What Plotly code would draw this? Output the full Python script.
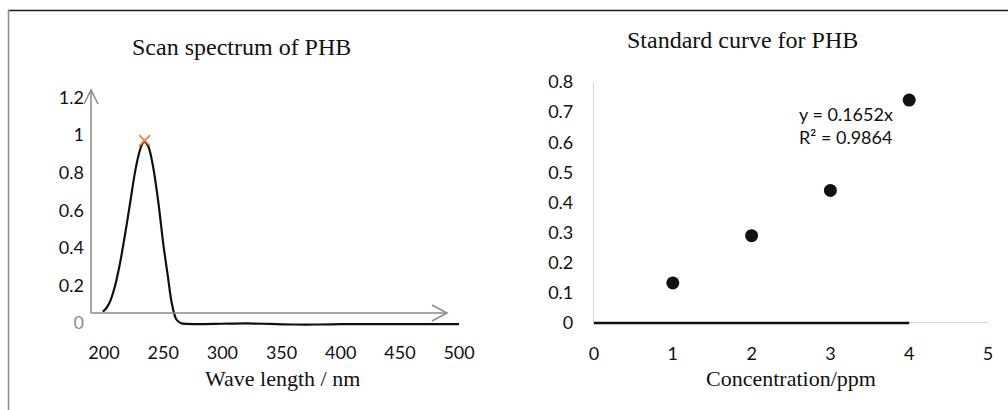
import plotly.graph_objects as go

# ---- Data: scan spectrum ----
wavelength = [199, 202, 205, 209, 213.5, 218, 222, 226, 229.5, 232, 234, 236, 238, 241.5,
              246, 250, 254, 257, 261, 265, 270, 276, 285, 300, 320, 340, 360, 380, 400,
              450, 500]
absorbance = [0.06, 0.08, 0.113, 0.19, 0.318, 0.48, 0.637, 0.796, 0.90, 0.95, 0.965, 0.955,
              0.93, 0.83, 0.637, 0.424, 0.246, 0.113, 0.02, -0.001, -0.005, -0.006, -0.006,
              -0.004, -0.002, -0.005, -0.008, -0.008, -0.006, -0.006, -0.006]
peak_wl = [234.3]
peak_abs = [0.97]

# ---- Data: standard curve ----
conc = [1, 2, 3, 4]
conc_abs = [0.133, 0.29, 0.44, 0.74]
trend_x = [0, 4]
trend_y = [0, 0]

left_yticks = [0, 0.2, 0.4, 0.6, 0.8, 1, 1.2]
left_yticktext = ["<span style='color:#8c8c8c'>0</span>", "0.2", "0.4", "0.6", "0.8", "1", "1.2"]
left_xticks = [200, 250, 300, 350, 400, 450, 500]
right_yticks = [0, 0.1, 0.2, 0.3, 0.4, 0.5, 0.6, 0.7, 0.8]
right_yticktext = ["0", "0.1", "0.2", "0.3", "0.4", "0.5", "0.6", "0.7", "0.8"]
right_xticks = [0, 1, 2, 3, 4, 5]

W, H = 1008, 410
TICKFONT = dict(family="Lato, 'Open Sans', sans-serif", size=18, color="#111111")
SERIF = "'Liberation Serif', 'Times New Roman', serif"


def px(x):
    return x / W


def py(y):
    return 1 - y / H


fig = go.Figure()

fig.add_trace(go.Scatter(x=wavelength, y=absorbance, mode="lines",
                         line=dict(color="#111111", width=2.2, shape="spline", smoothing=0.8),
                         xaxis="x", yaxis="y", showlegend=False, hoverinfo="skip"))
fig.add_trace(go.Scatter(x=peak_wl, y=peak_abs, mode="markers",
                         marker=dict(symbol="x-thin", size=11,
                                     line=dict(color="#ED7D31", width=1.6)),
                         xaxis="x", yaxis="y", showlegend=False))

fig.add_trace(go.Scatter(x=trend_x, y=trend_y, mode="lines",
                         line=dict(color="#111111", width=2.6),
                         xaxis="x2", yaxis="y2", showlegend=False, hoverinfo="skip"))
fig.add_trace(go.Scatter(x=conc, y=conc_abs, mode="markers",
                         marker=dict(symbol="circle", size=13, color="#111111"),
                         xaxis="x2", yaxis="y2", showlegend=False))

fig.update_layout(
    xaxis=dict(domain=[px(91), px(465)], range=[189, 505], tickvals=left_xticks,
               showgrid=False, zeroline=False, showline=False, ticks="", automargin=False,
               tickfont=TICKFONT, ticklabelstandoff=6, anchor="y"),
    yaxis=dict(domain=[py(334.3), py(78.6)], range=[-0.06, 1.3], tickvals=left_yticks,
               ticktext=left_yticktext, showgrid=False, zeroline=False, showline=False,
               ticks="", automargin=False, tickfont=TICKFONT, ticklabelstandoff=6, anchor="x"),
    xaxis2=dict(domain=[px(594), px(988)], range=[0, 5], tickvals=right_xticks,
                showgrid=False, zeroline=False, showline=False, ticks="", automargin=False,
                tickfont=TICKFONT, ticklabelstandoff=16, anchor="y2"),
    yaxis2=dict(domain=[py(325.4), py(82)], range=[-0.008, 0.8], tickvals=right_yticks,
                ticktext=right_yticktext, showgrid=False, zeroline=True,
                zerolinecolor="#d4d4d4", zerolinewidth=1.2,
                showline=True, linecolor="#d4d4d4", linewidth=1.2, automargin=False,
                ticks="", tickfont=TICKFONT, ticklabelstandoff=16, anchor="x2"),
)

shapes = []
grey = "#8a8a8a"
shapes.append(dict(type="line", xref="paper", yref="paper", x0=px(8), x1=1, y0=py(10.5), y1=py(10.5),
                   line=dict(color="#1a1a1a", width=1.3)))
shapes.append(dict(type="line", xref="paper", yref="paper", x0=px(8.5), x1=px(8.5), y0=py(10), y1=0,
                   line=dict(color="#8c8c8c", width=1.5)))
shapes.append(dict(type="line", xref="paper", yref="paper", x0=px(91), x1=px(91), y0=py(313), y1=py(90),
                   line=dict(color=grey, width=1.5)))
shapes.append(dict(type="line", xref="paper", yref="paper", x0=px(91), x1=px(447), y0=py(313), y1=py(313),
                   line=dict(color=grey, width=1.5)))
shapes.append(dict(type="path", xref="paper", yref="paper",
                   path=f"M {px(84)},{py(104)} L {px(91)},{py(90)} L {px(98)},{py(104)}",
                   line=dict(color=grey, width=1.5)))
shapes.append(dict(type="path", xref="paper", yref="paper",
                   path=f"M {px(432)},{py(305)} L {px(447)},{py(313)} L {px(432)},{py(321)}",
                   line=dict(color=grey, width=1.5)))
fig.update_layout(shapes=shapes)

annotations = [
    dict(text="Scan spectrum of PHB", x=px(241), y=py(47), xref="paper", yref="paper",
         showarrow=False, xanchor="center", yanchor="middle",
         font=dict(family=SERIF, size=24, color="#111111")),
    dict(text="Standard curve for PHB", x=px(742), y=py(40), xref="paper", yref="paper",
         showarrow=False, xanchor="center", yanchor="middle",
         font=dict(family=SERIF, size=24, color="#111111")),
    dict(text="Wave length / nm", x=px(282), y=py(378), xref="paper", yref="paper",
         showarrow=False, xanchor="center", yanchor="middle",
         font=dict(family=SERIF, size=22, color="#111111")),
    dict(text="Concentration/ppm", x=px(791), y=py(378), xref="paper", yref="paper",
         showarrow=False, xanchor="center", yanchor="middle",
         font=dict(family=SERIF, size=22, color="#111111")),
    dict(text="y = 0.1652x", x=2.58, y=0.694, xref="x2", yref="y2", showarrow=False,
         xanchor="left", yanchor="middle", font=TICKFONT),
    dict(text="R² = 0.9864", x=2.58, y=0.618, xref="x2", yref="y2", showarrow=False,
         xanchor="left", yanchor="middle", font=TICKFONT),
]
fig.update_layout(annotations=annotations)

fig.update_layout(width=W, height=H, margin=dict(l=0, r=0, t=0, b=0, autoexpand=False),
                  paper_bgcolor="white", plot_bgcolor="white", showlegend=False)

fig.write_html("out.html")
